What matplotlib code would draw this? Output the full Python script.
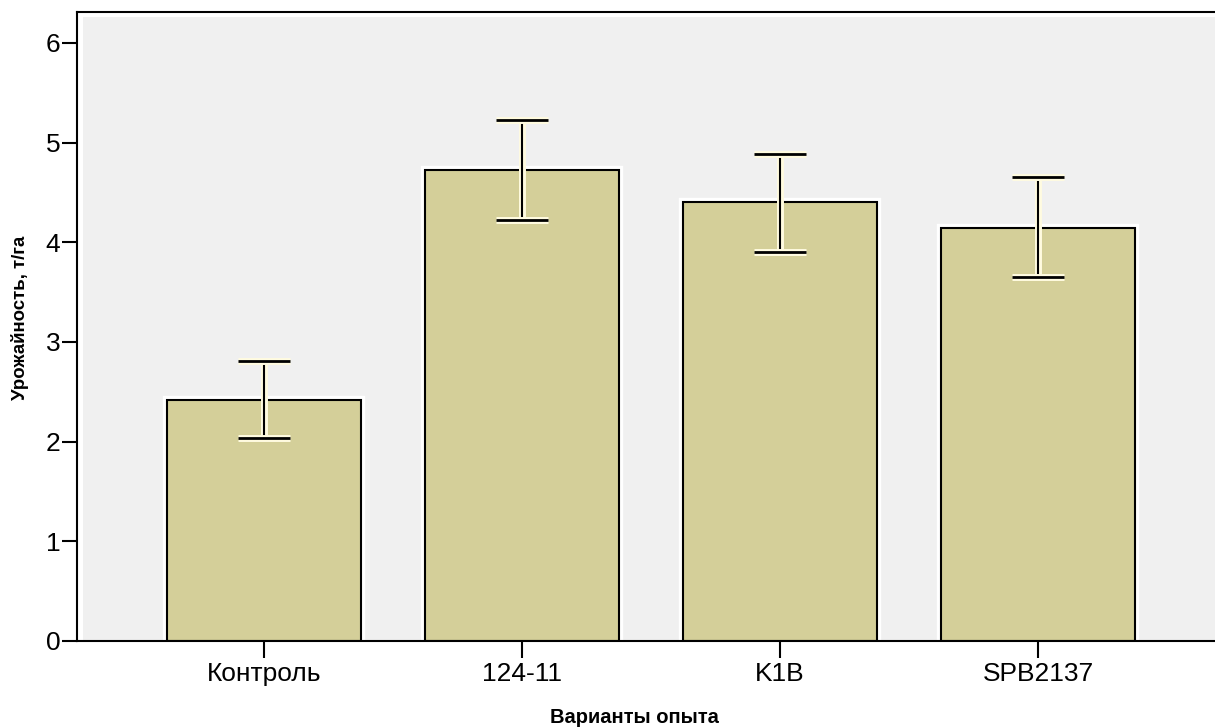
import numpy as np
import matplotlib
matplotlib.use("Agg")
import matplotlib.pyplot as plt
import matplotlib.patheffects as pe
from matplotlib.patches import Rectangle

plt.rcParams["font.family"] = ["Liberation Sans", "DejaVu Sans"]

# yield by experiment variant, t/ha, with error-bar limits
variants = ["Контроль", "124-11", "K1B", "SPB2137"]
means = [2.42, 4.72, 4.40, 4.14]
err_low = [2.04, 4.22, 3.90, 3.65]
err_high = [2.81, 5.23, 4.89, 4.65]

bar_color = "#d4cf99"
bg_color = "#f0f0f0"

fig = plt.figure(figsize=(12.15, 7.27), dpi=100)
ax = fig.add_axes([0.0634, 0.1183, 0.9366, 0.8652])
ax.set_facecolor("white")

# inset grey panel like SPSS output
ax.add_patch(Rectangle((0.005, 0.0), 0.995, 0.992, transform=ax.transAxes,
                       facecolor=bg_color, edgecolor="none", zorder=0))

x = np.arange(len(variants))

bars = ax.bar(x, means, width=0.75, color=bar_color, edgecolor="black",
              linewidth=1.5, zorder=2)
for b in bars:
    b.set_path_effects([pe.Stroke(linewidth=6, foreground="white"), pe.Normal()])

means_a = np.array(means)
yerr = [means_a - np.array(err_low), np.array(err_high) - means_a]
eb = ax.errorbar(x, means, yerr=yerr, fmt="none", ecolor="black",
                 elinewidth=1.5, capsize=19, capthick=2, zorder=3)
for art in eb.lines[1] + eb.lines[2]:
    art.set_path_effects([pe.Stroke(linewidth=5, foreground="#fffbe0"), pe.Normal()])

ax.set_xlim(-0.725, 3.686)
ax.set_ylim(0, 6.31)
ax.set_yticks(range(7))
ax.set_xticks(x)
ax.set_xticklabels(variants)

ax.tick_params(axis="y", labelsize=19, length=11, width=1.5, pad=1)
ax.tick_params(axis="x", labelsize=19, length=12, width=1.5, pad=3)

for side in ["left", "top", "bottom"]:
    ax.spines[side].set_linewidth(1.5)
ax.spines["right"].set_visible(False)

ax.set_xlabel("Варианты опыта", fontsize=14.5, fontweight="bold")
ax.set_ylabel("Урожайность, т/га", fontsize=13.4, fontweight="bold")
ax.xaxis.set_label_coords(0.49, -0.106)
ax.yaxis.set_label_coords(-0.042, 0.5135)

fig.savefig("out.png", dpi=100)
